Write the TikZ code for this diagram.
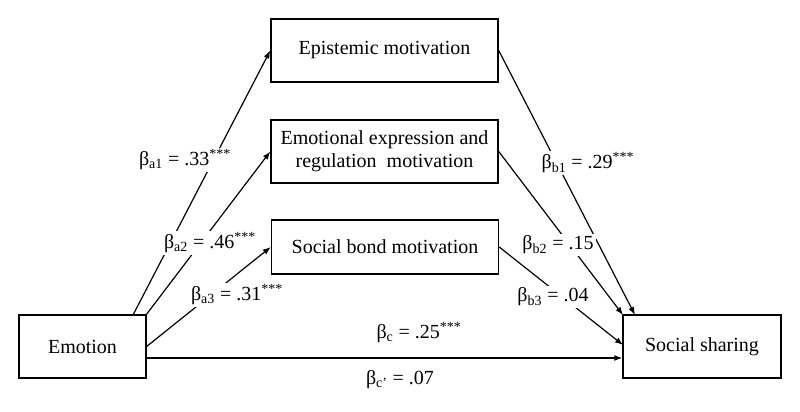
\documentclass[tikz,border=0pt]{standalone}
\usepackage{fontspec}
\setmainfont{Liberation Serif}
\usetikzlibrary{arrows.meta}
\begin{document}
\begin{tikzpicture}[x=0.75pt,y=-0.75pt,
  box/.style={draw,line width=1.1pt,minimum width=170.25pt,minimum height=47.25pt,inner sep=0pt,font=\fontsize{15}{17}\selectfont,align=center},
  sbox/.style={draw,line width=1.1pt,inner sep=0pt,font=\fontsize{15}{17}\selectfont},
  arr/.style={line width=0.9pt,-{Latex[length=6pt,width=4.5pt]}},
  lab/.style={fill=white,inner sep=1.5pt,font=\fontsize{15}{17}\selectfont}]
\useasboundingbox (0,0) rectangle (800,411);
\node[box] (epi) at (384.5,50.5) {Epistemic motivation};
\node[box] (emo) at (384.5,151.5) {Emotional expression and\\regulation\ \ motivation};
\node[box,minimum height=40.5pt] (soc) at (385,247) {Social bond motivation};
\node[sbox,minimum width=95.25pt,minimum height=47.25pt] (em) at (82.5,346.5) {Emotion};
\node[sbox,minimum width=118.5pt,minimum height=47.25pt] (ss) at (702,346.5) {Social sharing};
\coordinate (a1s) at (133,315);
\coordinate (a2s) at (146,315);
\coordinate (a3s) at (146,347);
\coordinate (b1e) at (635,315);
\coordinate (b2e) at (623,315);
\coordinate (b3e) at (623,345);
\draw[arr] (a1s) -- (epi.west);
\draw[arr] (a2s) -- (emo.west);
\draw[arr] (a3s) -- (soc.west);
\draw[arr] (epi.east) -- (b1e);
\draw[arr] (emo.east) -- (b2e);
\draw[arr] (soc.east) -- (b3e);
\draw[arr] (em.east |- 0,358) coordinate (cs) -- (ss.west |- cs);
\node[lab] (la1) at (185,160) {β\textsubscript{a1} = .33\textsuperscript{***}};
\node[lab] (la2) at (210,243) {β\textsubscript{a2} = .46\textsuperscript{***}};
\node[lab] (la3) at (237,295) {β\textsubscript{a3} = .31\textsuperscript{***}};
\node[lab] (lb1) at (588,163) {β\textsubscript{b1} = .29\textsuperscript{***}};
\node[lab] (lb2) at (558,245) {β\textsubscript{b2} = .15};
\node[lab] (lb3) at (553,297) {β\textsubscript{b3} = .04};
\node[font=\fontsize{15}{17}\selectfont] (lc) at (419,333) {β\textsubscript{c} = .25\textsuperscript{***}};
\node[font=\fontsize{15}{17}\selectfont] (lcp) at (400,380) {β\textsubscript{c’} = .07};
\end{tikzpicture}
\end{document}
